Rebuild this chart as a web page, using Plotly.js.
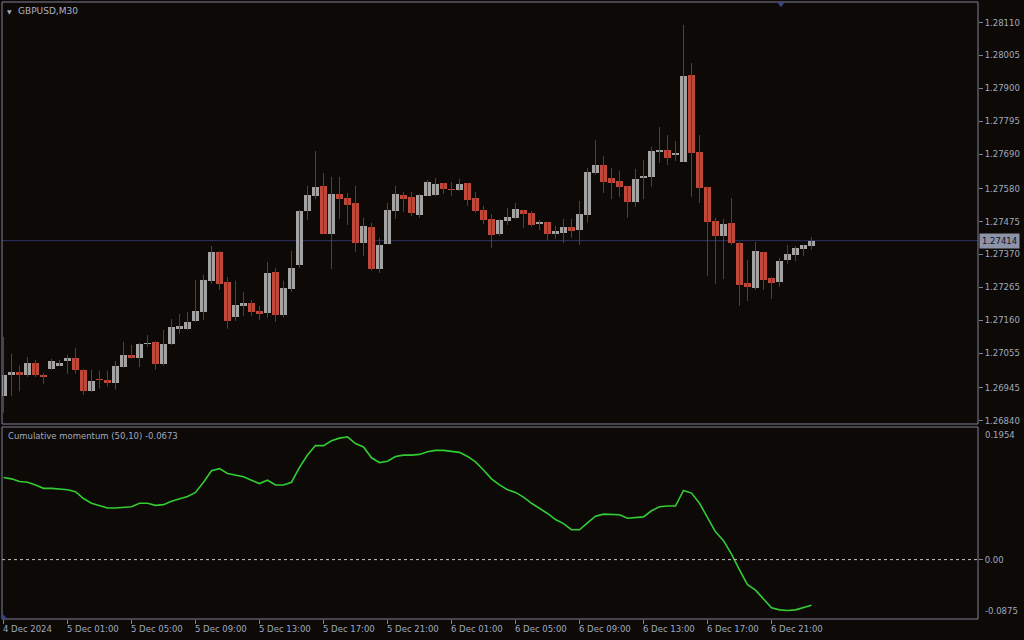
<!DOCTYPE html>
<html><head><meta charset="utf-8">
<script src="https://cdn.plot.ly/plotly-3.0.1.min.js"></script>
<style>html,body{margin:0;padding:0;background:#0c0907;}#chart{width:1024px;height:640px;}</style>
</head><body><div id="chart"></div><script>
const symbolLabel = "GBPUSD,M30";
const indicatorLabel = "Cumulative momentum (50,10) -0.0673";
const firstBarTime = Date.UTC(2024, 11, 4, 21, 0);   // 4 Dec 2024 21:00, M30 bars
const barMinutes = 30;

const open = [
1.26917,1.26986,1.26995,1.26984,1.27024,1.26984,1.27006,1.27015,1.27031,1.27040,
1.27000,1.26933,1.26973,1.26970,1.26960,1.27012,1.27050,1.27041,1.27085,1.27091,
1.27021,1.27085,1.27133,1.27133,1.27158,1.27187,1.27286,1.27378,1.27282,1.27171,
1.27206,1.27215,1.27190,1.27183,1.27314,1.27177,1.27260,1.27337,1.27509,1.27557,
1.27589,1.27436,1.27563,1.27550,1.27534,1.27407,1.27458,1.27324,1.27404,1.27509,
1.27560,1.27554,1.27496,1.27557,1.27560,1.27598,1.27579,1.27576,1.27598,1.27550,
1.27512,1.27483,1.27436,1.27477,1.27487,1.27512,1.27503,1.27467,1.27474,1.27436,
1.27439,1.27458,1.27448,1.27496,1.27630,1.27656,1.27614,1.27605,1.27589,1.27538,
1.27614,1.27617,1.27697,1.27704,1.27688,1.27665,1.27943,1.27697,1.27586,1.27477,
1.27429,1.27471,1.27407,1.27279,1.27263,1.27378,1.27295,1.27282,1.27353,1.27369,
1.27388,1.27397];
const high = [
1.27107,1.27053,1.27015,1.27043,1.27034,1.26992,1.27037,1.27034,1.27050,1.27072,
1.27005,1.27002,1.26999,1.26999,1.27030,1.27091,1.27081,1.27088,1.27113,1.27094,
1.27129,1.27164,1.27180,1.27187,1.27289,1.27305,1.27397,1.27381,1.27298,1.27286,
1.27250,1.27225,1.27206,1.27346,1.27327,1.27286,1.27381,1.27512,1.27589,1.27700,
1.27630,1.27617,1.27617,1.27566,1.27589,1.27487,1.27471,1.27423,1.27534,1.27589,
1.27570,1.27570,1.27563,1.27608,1.27614,1.27598,1.27601,1.27611,1.27598,1.27570,
1.27525,1.27499,1.27483,1.27519,1.27534,1.27512,1.27509,1.27480,1.27474,1.27461,
1.27483,1.27483,1.27541,1.27646,1.27735,1.27684,1.27646,1.27637,1.27589,1.27643,
1.27672,1.27713,1.27777,1.27751,1.27732,1.28102,1.27981,1.27751,1.27586,1.27487,
1.27483,1.27550,1.27410,1.27353,1.27410,1.27378,1.27298,1.27359,1.27400,1.27397,
1.27400,1.27426];
const low = [
1.26865,1.26917,1.26933,1.26979,1.26979,1.26957,1.27002,1.27014,1.26989,1.26989,
1.26922,1.26932,1.26942,1.26948,1.26938,1.27009,1.27037,1.27011,1.27075,1.27002,
1.27015,1.27081,1.27117,1.27129,1.27155,1.27161,1.27276,1.27257,1.27133,1.27158,
1.27174,1.27174,1.27161,1.27168,1.27155,1.27168,1.27250,1.27327,1.27480,1.27547,
1.27436,1.27324,1.27483,1.27464,1.27378,1.27365,1.27318,1.27311,1.27404,1.27483,
1.27506,1.27493,1.27487,1.27557,1.27557,1.27563,1.27557,1.27573,1.27525,1.27503,
1.27467,1.27391,1.27429,1.27464,1.27483,1.27455,1.27458,1.27448,1.27416,1.27420,
1.27407,1.27423,1.27400,1.27471,1.27624,1.27566,1.27547,1.27554,1.27487,1.27522,
1.27547,1.27586,1.27662,1.27656,1.27668,1.27665,1.27554,1.27534,1.27302,1.27276,
1.27292,1.27400,1.27206,1.27222,1.27257,1.27257,1.27228,1.27267,1.27340,1.27349,
1.27365,1.27385];
const close = [
1.26986,1.26995,1.26984,1.27024,1.26984,1.26979,1.27030,1.27024,1.27040,1.27000,
1.26933,1.26967,1.26968,1.26960,1.27015,1.27050,1.27041,1.27085,1.27088,1.27021,
1.27085,1.27139,1.27142,1.27155,1.27190,1.27289,1.27378,1.27276,1.27158,1.27209,
1.27215,1.27187,1.27180,1.27311,1.27177,1.27263,1.27327,1.27509,1.27560,1.27586,
1.27436,1.27563,1.27547,1.27528,1.27407,1.27461,1.27324,1.27400,1.27512,1.27563,
1.27547,1.27503,1.27560,1.27601,1.27595,1.27579,1.27576,1.27595,1.27544,1.27509,
1.27480,1.27432,1.27480,1.27490,1.27515,1.27499,1.27464,1.27474,1.27436,1.27445,
1.27458,1.27445,1.27499,1.27633,1.27656,1.27601,1.27598,1.27586,1.27538,1.27611,
1.27621,1.27700,1.27704,1.27678,1.27694,1.27940,1.27694,1.27582,1.27474,1.27429,
1.27467,1.27407,1.27273,1.27267,1.27381,1.27289,1.27279,1.27349,1.27372,1.27391,
1.27400,1.27414];
const momentum = [
0.121,0.119,0.115,0.114,0.110,0.105,0.105,0.104,0.103,0.100,
0.090,0.083,0.079,0.076,0.076,0.077,0.078,0.083,0.083,0.080,
0.081,0.086,0.089,0.093,0.099,0.114,0.131,0.134,0.127,0.124,
0.122,0.117,0.112,0.117,0.110,0.110,0.114,0.136,0.154,0.168,
0.168,0.175,0.179,0.181,0.171,0.166,0.150,0.143,0.145,0.152,
0.154,0.154,0.155,0.159,0.161,0.161,0.159,0.158,0.152,0.144,
0.132,0.119,0.110,0.103,0.099,0.092,0.083,0.076,0.068,0.059,
0.053,0.044,0.044,0.054,0.064,0.067,0.067,0.066,0.061,0.062,
0.063,0.072,0.078,0.079,0.079,0.102,0.098,0.083,0.062,0.041,
0.028,0.008,-0.015,-0.037,-0.045,-0.058,-0.071,-0.074,-0.075,-0.074,
-0.071,-0.0673];

const priceTickVals = [1.28110,1.28005,1.27900,1.27795,1.27690,1.27580,1.27475,1.27370,1.27265,1.27160,1.27055,1.26945,1.26840];
const priceTickText = ["1.28110","1.28005","1.27900","1.27795","1.27690","1.27580","1.27475","1.27370","1.27265","1.27160","1.27055","1.26945","1.26840"];
const lastPrice = 1.27414;
const lastPriceText = "1.27414";
const indMax = 0.1954, indMin = -0.0875;
const indMaxText = "0.1954", indMinText = "-0.0875", indZeroText = "0.00";
const timeTickVals = ["2024-12-04 21:00","2024-12-05 01:00","2024-12-05 05:00","2024-12-05 09:00","2024-12-05 13:00","2024-12-05 17:00","2024-12-05 21:00","2024-12-06 01:00","2024-12-06 05:00","2024-12-06 09:00","2024-12-06 13:00","2024-12-06 17:00","2024-12-06 21:00"];
const timeTickText = ["4 Dec 2024","5 Dec 01:00","5 Dec 05:00","5 Dec 09:00","5 Dec 13:00","5 Dec 17:00","5 Dec 21:00","6 Dec 01:00","6 Dec 05:00","6 Dec 09:00","6 Dec 13:00","6 Dec 17:00","6 Dec 21:00"];

// ---- build ----
const BG = '#0c0907', AX = '#7c8298', TXT = '#a0a9bf';
const BULL = '#a3a3a3', BEAR = '#c0473a', WICK = '#454545';
const stepMs = barMinutes * 60000;
const fmt = ms => new Date(ms).toISOString().replace('T', ' ').slice(0, 23);
const times = open.map((_, i) => fmt(firstBarTime + i * stepMs));

const wx = [], wy = [];
times.forEach((t, i) => { wx.push(t, t, null); wy.push(low[i], high[i], null); });
const minBody = 0.00003;
const bodyBase = open.map((o, i) => Math.min(o, close[i]));
const bodyH = open.map((o, i) => Math.max(Math.abs(close[i] - o), minBody));
const bodyCol = open.map((o, i) => close[i] >= o ? BULL : BEAR);

const rangeStart = firstBarTime - stepMs * 1.5 / 8;
const rangeEnd = rangeStart + stepMs * 122;
const xr = [fmt(rangeStart), fmt(rangeEnd)];

const traces = [
  {type: 'scatter', mode: 'lines', x: wx, y: wy, xaxis: 'x', yaxis: 'y',
   line: {color: WICK, width: 1}, hoverinfo: 'skip', connectgaps: false},
  {type: 'bar', x: times, y: bodyH, base: bodyBase, xaxis: 'x', yaxis: 'y',
   width: stepMs * 7 / 8, marker: {color: bodyCol, line: {width: 0}}, hoverinfo: 'skip'},
  {type: 'scatter', mode: 'lines', x: times, y: momentum, xaxis: 'x2', yaxis: 'y2',
   line: {color: '#32cd32', width: 1.6}, hoverinfo: 'skip'}
];

const mainDomain = [(619 - 424) / 617, 1];
const indDomain = [0, (619 - 427) / 617];

const annotations = [
  {xref: 'paper', yref: 'paper', x: 0, y: 1, xanchor: 'left', yanchor: 'top', xshift: 3, yshift: -4,
   text: '\u25BC', showarrow: false, font: {size: 6, color: TXT}},
  {xref: 'paper', yref: 'paper', x: 0, y: 1, xanchor: 'left', yanchor: 'top', xshift: 14, yshift: -2,
   text: symbolLabel, showarrow: false, font: {size: 9, color: '#a9b1c6'}},
  {xref: 'paper', yref: 'y2 domain', x: 0, y: 1, xanchor: 'left', yanchor: 'top', xshift: 4, yshift: -2,
   text: indicatorLabel, showarrow: false, font: {size: 8.5, color: TXT}},
  {xref: 'paper', yref: 'y', x: 1, y: lastPrice, xanchor: 'left', yanchor: 'middle', xshift: 1,
   text: lastPriceText, showarrow: false, bgcolor: '#8e94a8', borderpad: 2,
   font: {size: 8.5, color: '#101020'}},
  {xref: 'paper', yref: 'y2 domain', x: 1, y: 1, xanchor: 'left', yanchor: 'top', xshift: 5, yshift: -1,
   text: indMaxText, showarrow: false, font: {size: 8.5, color: TXT}},
  {xref: 'paper', yref: 'y2 domain', x: 1, y: 0, xanchor: 'left', yanchor: 'bottom', xshift: 5, yshift: 1,
   text: indMinText, showarrow: false, font: {size: 8.5, color: TXT}}
];
timeTickVals.forEach((t, i) => annotations.push({
  xref: 'x2', yref: 'paper', x: t, y: 0, xanchor: 'left', yanchor: 'top', xshift: -3, yshift: -3,
  text: timeTickText[i], showarrow: false, font: {size: 8.5, color: TXT}
}));

const shapes = [
  {type: 'line', xref: 'paper', yref: 'y', x0: 0, x1: 1, y0: lastPrice, y1: lastPrice,
   line: {color: '#2f3466', width: 1}, layer: 'below'},
  {type: 'line', xref: 'paper', yref: 'y2', x0: 0, x1: 1, y0: 0, y1: 0,
   line: {color: '#c8c8c8', width: 1, dash: '3px,3px'}},
  {type: 'rect', xref: 'paper', yref: 'y domain', x0: 0, x1: 1, y0: 0, y1: 1,
   line: {color: AX, width: 1}},
  {type: 'rect', xref: 'paper', yref: 'y2 domain', x0: 0, x1: 1, y0: 0, y1: 1,
   line: {color: AX, width: 1}},
  {type: 'path', xref: 'paper', yref: 'paper',
   path: 'M 0.794 1 L 0.8022 1 L 0.7981 0.9915 Z', fillcolor: '#39457a', line: {width: 0}},
  {type: 'path', xref: 'paper', yref: 'paper',
   path: 'M 0 0 L 0 0.009 L 0.006 0 Z', fillcolor: '#39457a', line: {width: 0}}
];

const layout = {
  width: 1024, height: 640,
  paper_bgcolor: BG, plot_bgcolor: BG,
  margin: {l: 2, r: 46, t: 2, b: 21, pad: 0},
  showlegend: false, barmode: 'overlay', bargap: 0,
  font: {family: 'DejaVu Sans, sans-serif', size: 8.5, color: TXT},
  xaxis: {type: 'date', range: xr, anchor: 'y', showgrid: false, zeroline: false,
          showticklabels: false, ticks: '', showline: false, fixedrange: true},
  xaxis2: {type: 'date', range: xr, anchor: 'y2', showgrid: false, zeroline: false,
           tickmode: 'array', tickvals: timeTickVals, ticktext: timeTickText, showticklabels: false,
           ticks: 'outside', ticklen: 4, tickcolor: AX, showline: false, fixedrange: true},
  yaxis: {domain: mainDomain, side: 'right', range: [1.26829, 1.281756], showgrid: false, zeroline: false,
          tickmode: 'array', tickvals: priceTickVals, ticktext: priceTickText,
          ticks: 'outside', ticklen: 4, tickcolor: AX, tickfont: {size: 8.5, color: TXT},
          showline: false, fixedrange: true},
  yaxis2: {domain: indDomain, side: 'right', range: [indMin, indMax], showgrid: false, zeroline: false,
           tickmode: 'array', tickvals: [0], ticktext: [indZeroText],
           ticks: 'outside', ticklen: 4, tickcolor: AX, tickfont: {size: 8.5, color: TXT},
           showline: false, fixedrange: true},
  annotations: annotations,
  shapes: shapes
};

Plotly.newPlot('chart', traces, layout, {displayModeBar: false, staticPlot: true});
</script></body></html>
